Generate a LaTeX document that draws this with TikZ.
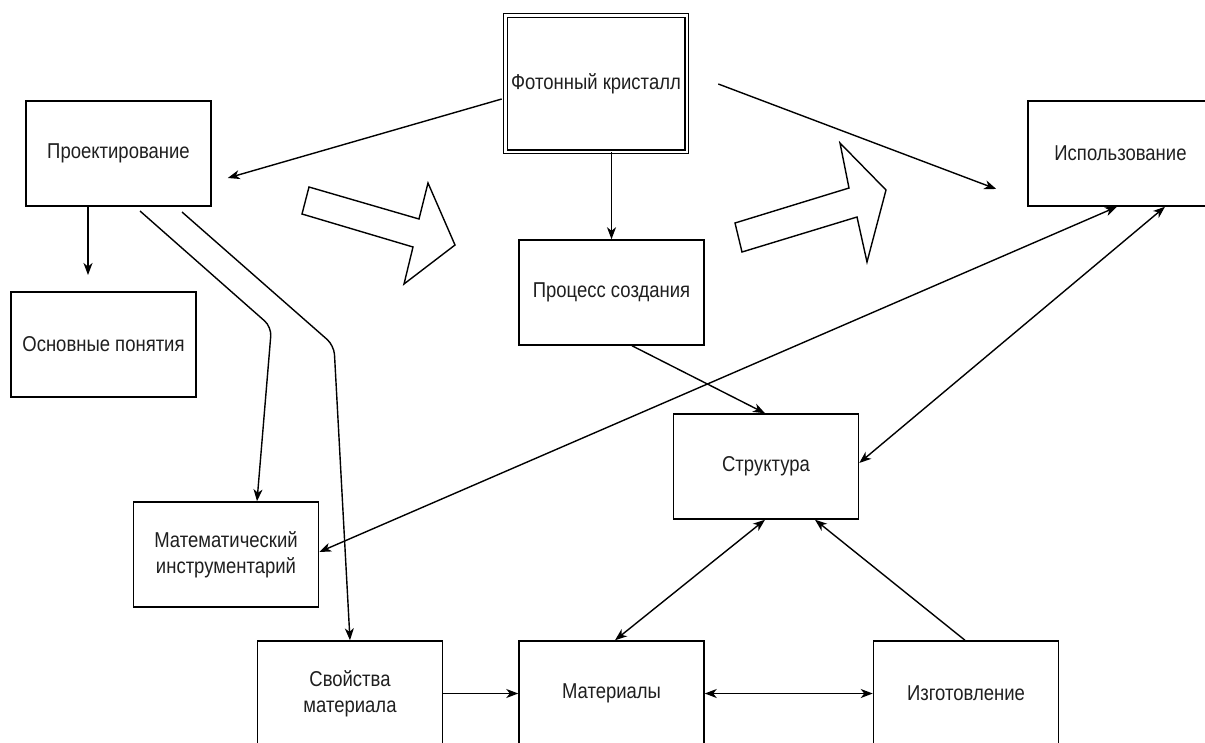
\documentclass[tikz,border=0pt]{standalone}
\usepackage{fontspec}
\setmainfont[FakeStretch=0.86]{Liberation Sans}
\usetikzlibrary{arrows.meta,calc}
\begin{document}
\begin{tikzpicture}[x=1pt,y=-1pt,
  box/.style={draw=black,line width=1.5pt,fill=white,minimum width=185pt,minimum height=105pt,inner sep=0pt,align=center,font=\fontsize{21.5}{26}\selectfont,text=black!88},
  dbox/.style={box,line width=1.1pt,double=white,double distance=2.5pt,minimum width=181.5pt,minimum height=136.5pt},
  tip/.tip={Stealth[length=12pt,width=9pt,inset=3.5pt]},
  conn/.style={line width=1.4pt,draw=black},
  arr/.style={conn,-tip},
  darr/.style={conn,tip-tip},
  hollow/.style={draw=black,line width=1.4pt,fill=white,line join=miter}]
\useasboundingbox (0,0) rectangle (1205,742);
\fill[white] (0,0) rectangle (1205,742);

% boxes
\node[dbox] (foto) at (596,83.5) {Фотонный кристалл};
\node[box] (proekt) at (118.5,153.5) {Проектирование};
\node[box] (ispol) at (1120.5,153.5) {Использование};
\node[box] (osnov) at (103.5,344.5) {Основные понятия};
\node[box] (process) at (611.5,292.5) {Процесс создания};
\node[box] (struct) at (766,466.5) {Структура};
\node[box] (matinstr) at (226,554.5) {Математический\\инструментарий};
\node[box] (svoist) at (350,693.5) {Свойства\\материала};
\node[box] (materialy) at (611.5,693.5) {Материалы};
\node[box] (izgot) at (966,693.5) {Изготовление};

% hollow block arrows
\draw[hollow] (309,187) -- (419,219) -- (428,183) -- (455,245) -- (404,284) -- (413,247) -- (302,214) -- cycle;
\draw[hollow] (735,223) -- (849,188) -- (840,143) -- (886,190) -- (867,262) -- (857,217) -- (742,252) -- cycle;

% free ends
\coordinate (fotoL) at ($(foto.west)+(-3,15.5)$);
\coordinate (proektTip) at ($(proekt.east)+(16,24.5)$);
\coordinate (fotoR) at ($(foto.east)+(31,0.5)$);
\coordinate (ispolTip) at ($(ispol.west)+(-31,35.5)$);
\coordinate (osnovTop) at (88,206);
\coordinate (osnovTip) at (88,275);
\coordinate (c1s) at (140,211);
\coordinate (c1b) at (271.5,327);
\coordinate (c2s) at (182,212);
\coordinate (c2b) at (334,345.5);

% connectors
\draw[arr] (fotoL) -- (proektTip);
\draw[arr] (fotoR) -- (ispolTip);
\draw[arr] (process.north |- foto.south) -- (process.north);
\draw[arr] (osnovTop) -- (osnovTip);
\draw[arr,rounded corners=9pt] (c1s) -- (c1b) -- ($(matinstr.north)+(31,0)$);
\draw[arr,rounded corners=9pt] (c2s) -- (c2b) -- (svoist.north);
\draw[arr] ($(process.south)+(20.5,0)$) -- ($(struct.north)+(-1,0)$);
\draw[darr] ($(matinstr.east)+(0,-2.5)$) -- ($(ispol.south)+(-3.5,0)$);
\draw[darr] ($(struct.east)+(0,-3.5)$) -- ($(ispol.south)+(44.5,0)$);
\draw[darr] ($(materialy.north)+(3.5,0)$) -- ($(struct.south)+(-1,0)$);
\draw[arr] ($(izgot.north)+(-1,0)$) -- ($(struct.south)+(49,0)$);
\draw[arr] (svoist.east) -- (materialy.west);
\draw[darr] (materialy.east) -- (izgot.west);
\end{tikzpicture}
\end{document}
